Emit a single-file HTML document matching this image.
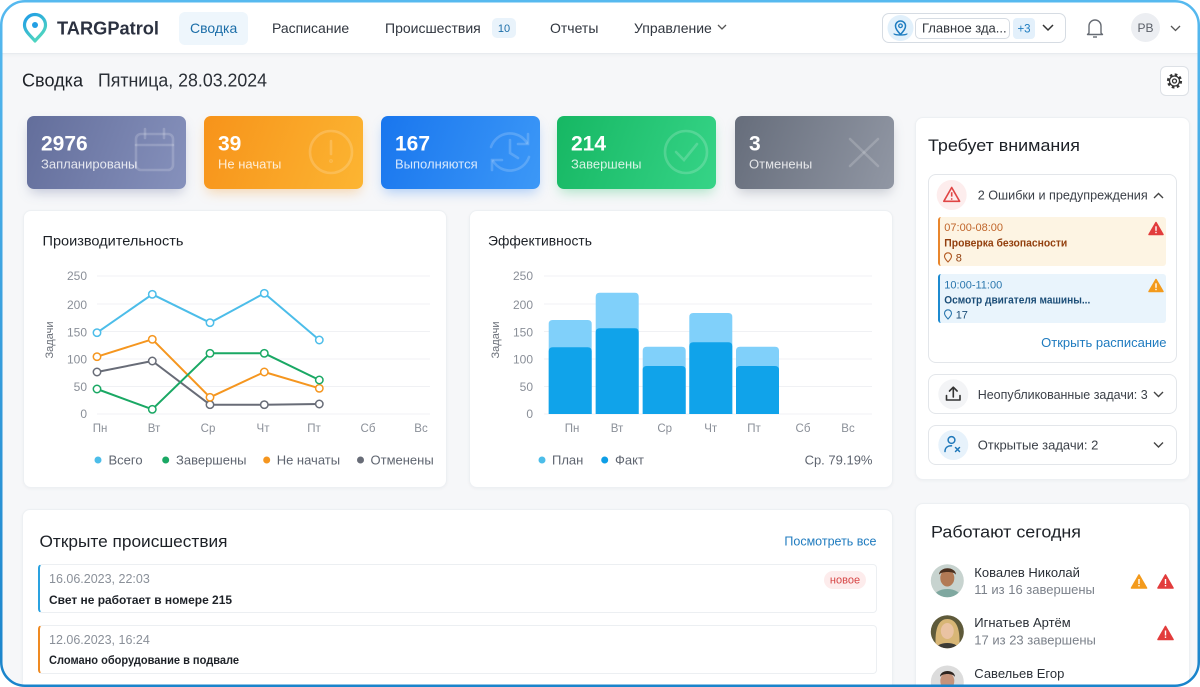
<!DOCTYPE html>
<html lang="ru"><head><meta charset="utf-8"><title>TARGPatrol — Сводка</title>
<style>
*{box-sizing:border-box}
html,body{margin:0;padding:0;width:1200px;height:687px;overflow:hidden;background:#fff}
#root{position:relative;width:1200px;height:687px;overflow:hidden;background:#f6f7f9;font-family:"Liberation Sans","DejaVu Sans",sans-serif}
.b{position:absolute}
.card{position:absolute;background:#fff;border:1px solid #edf0f3;border-radius:8px;box-shadow:0 1px 3px rgba(20,30,50,0.04)}
.stat{position:absolute;top:116px;width:159px;height:73px;border-radius:7px}
svg.ov{position:absolute;left:0;top:0}
</style></head><body><div id="root">

<!-- header -->
<div class="b" style="left:0;top:0;width:1200px;height:54px;background:#fff;border-bottom:1px solid #e8ebef;box-shadow:0 1px 4px rgba(0,0,0,0.04)"></div>
<div class="b" style="left:179px;top:12px;width:69px;height:33px;background:#eef6fc;border-radius:6px"></div>
<div class="b" style="left:492px;top:18px;width:24px;height:20px;background:#e9f3fb;border-radius:5px"></div>
<div class="b" style="left:882px;top:13px;width:184px;height:30px;border:1px solid #d6dce3;border-radius:7px;background:#fff"></div>
<div class="b" style="left:915px;top:18px;width:95px;height:21px;border:1px solid #d6dce3;border-radius:5px;background:#fff"></div>
<div class="b" style="left:1013px;top:18px;width:22px;height:21px;background:#e3f0fb;border-radius:4px"></div>
<div class="b" style="left:1160px;top:66px;width:29px;height:30px;background:#fff;border:1px solid #dde1e6;border-radius:6px"></div>

<!-- stat cards -->
<div class="stat" style="left:27px;background:linear-gradient(110deg,#636e9b,#8691bc);box-shadow:0 6px 12px -3px rgba(90,100,150,0.35)"></div>
<div class="stat" style="left:204px;background:linear-gradient(110deg,#f7931a,#fcb532);box-shadow:0 6px 12px -3px rgba(245,150,30,0.35)"></div>
<div class="stat" style="left:381px;background:linear-gradient(110deg,#1976ee,#3c98f7);box-shadow:0 6px 12px -3px rgba(30,120,240,0.35)"></div>
<div class="stat" style="left:557px;background:linear-gradient(110deg,#16b763,#36d487);box-shadow:0 6px 12px -3px rgba(30,190,100,0.35)"></div>
<div class="stat" style="left:735px;background:linear-gradient(110deg,#666d7b,#9197a4);box-shadow:0 6px 12px -3px rgba(100,110,125,0.35)"></div>

<!-- chart cards -->
<div class="card" style="left:23px;top:210px;width:424px;height:278px"></div>
<div class="card" style="left:469px;top:210px;width:424px;height:278px"></div>

<!-- attention -->
<div class="card" style="left:915px;top:117px;width:275px;height:363px"></div>
<div class="b" style="left:928px;top:174px;width:249px;height:189px;border:1px solid #e3e6ea;border-radius:8px;background:#fff"></div>
<div class="b" style="left:938px;top:217px;width:228px;height:49px;background:#fdf4e3;border-left:2px solid #e9862c;border-radius:3px"></div>
<div class="b" style="left:938px;top:274px;width:228px;height:49px;background:#e9f4fc;border-left:2px solid #1c8ad0;border-radius:3px"></div>
<div class="b" style="left:928px;top:374px;width:249px;height:40px;border:1px solid #e3e6ea;border-radius:8px;background:#fff"></div>
<div class="b" style="left:928px;top:425px;width:249px;height:40px;border:1px solid #e3e6ea;border-radius:8px;background:#fff"></div>

<!-- workers -->
<div class="card" style="left:915px;top:503px;width:275px;height:200px"></div>

<!-- incidents -->
<div class="card" style="left:22px;top:509px;width:871px;height:200px"></div>
<div class="b" style="left:38px;top:564px;width:839px;height:49px;background:#fff;border:1px solid #eceff2;border-left:2px solid #2aa2e0;border-radius:4px"></div>
<div class="b" style="left:38px;top:625px;width:839px;height:49px;background:#fff;border:1px solid #eceff2;border-left:2px solid #ef8a22;border-radius:4px"></div>
<div class="b" style="left:824px;top:571px;width:42px;height:18px;background:#fdecec;border-radius:9px"></div>

<svg class="ov" width="1200" height="687" viewBox="0 0 1200 687" xmlns="http://www.w3.org/2000/svg" font-family="Liberation Sans, DejaVu Sans, sans-serif">
<defs>
<linearGradient id="lg" x1="0" y1="0" x2="0.6" y2="1"><stop offset="0" stop-color="#1e9be8"/><stop offset="1" stop-color="#4fd6bf"/></linearGradient>
<linearGradient id="fr" x1="0" y1="0" x2="0" y2="1"><stop offset="0" stop-color="#56b9ef"/><stop offset="1" stop-color="#1a84cb"/></linearGradient>
<clipPath id="a1"><circle cx="947.3" cy="580.7" r="16.5"/></clipPath>
<clipPath id="a2"><circle cx="947.3" cy="631.7" r="16.5"/></clipPath>
<clipPath id="a3"><circle cx="947.3" cy="682" r="16.5"/></clipPath>
</defs>

<!-- HEADER -->
<path d="M35 41 C31 36 24.5 31.5 24.5 25 A10.5 10.5 0 1 1 45.5 25 C45.5 31.5 39 36 35 41 Z" fill="none" stroke="url(#lg)" stroke-width="3.2" stroke-linejoin="round"/>
<circle cx="35" cy="25" r="3" fill="#239fe4"/>
<text x="57" y="34.5" font-size="18" font-weight="bold" fill="#2b3140" textLength="102" lengthAdjust="spacingAndGlyphs">TARGPatrol</text>
<g font-size="14" fill="#30363f">
<text x="190" y="33" fill="#1c6ea8">Сводка</text>
<text x="272" y="33">Расписание</text>
<text x="385" y="33">Происшествия</text>
<text x="550" y="33">Отчеты</text>
<text x="634" y="33">Управление</text>
</g>
<text x="504" y="32" font-size="11" fill="#1c6ea8" text-anchor="middle">10</text>
<polyline points="718,25 722,29 726,25" fill="none" stroke="#555" stroke-width="1.3"/>
<circle cx="900.5" cy="28" r="13" fill="#e1f0fb"/>
<path d="M900.5 34.5 C897 30.5 895.5 28.5 895.5 26 A5 5 0 1 1 905.5 26 C905.5 28.5 904 30.5 900.5 34.5 Z" fill="none" stroke="#1d7cc0" stroke-width="1.5"/>
<circle cx="900.5" cy="25.8" r="1.8" fill="none" stroke="#1d7cc0" stroke-width="1.3"/>
<path d="M894 33.5 C894 35.5 907 35.5 907 33.5" fill="none" stroke="#1d7cc0" stroke-width="1.3"/>
<text x="922" y="32.5" font-size="13" fill="#2f343b">Главное зда...</text>
<text x="1024" y="32.5" font-size="11.5" fill="#1d7cc0" text-anchor="middle">+3</text>
<polyline points="1043,25 1048,30 1053,25" fill="none" stroke="#333" stroke-width="1.5"/>
<path d="M1089 33 V26 A6 6 0 0 1 1101 26 V33 L1102.5 34.5 H1087.5 Z" fill="none" stroke="#666b73" stroke-width="1.4" stroke-linejoin="round"/>
<path d="M1093 37 H1097" stroke="#666b73" stroke-width="1.4"/>
<circle cx="1145.5" cy="27.5" r="14.5" fill="#eceef2"/>
<text x="1145.5" y="32" font-size="12" fill="#5a5f68" text-anchor="middle">PB</text>
<polyline points="1171,26 1175.5,30.5 1180,26" fill="none" stroke="#555" stroke-width="1.3"/>

<!-- subheader -->
<text x="22" y="86.5" font-size="18" fill="#1d2127" textLength="61" lengthAdjust="spacingAndGlyphs">Сводка</text>
<text x="98" y="86.5" font-size="18" fill="#2a2f36" textLength="169" lengthAdjust="spacingAndGlyphs">Пятница, 28.03.2024</text>
<circle cx="1174.5" cy="81" r="6.3" fill="none" stroke="#333" stroke-width="2.6" stroke-dasharray="2.6 2.35"/>
<circle cx="1174.5" cy="81" r="5" fill="#fff" stroke="#333" stroke-width="1.3"/>
<circle cx="1174.5" cy="81" r="2" fill="none" stroke="#333" stroke-width="1.3"/>

<!-- STAT CARDS -->
<g fill="none" stroke="#fff" stroke-opacity="0.18" stroke-width="2.6" stroke-linecap="round">
<rect x="136" y="134" width="37" height="36" rx="5"/><line x1="136" y1="145" x2="173" y2="145"/><line x1="145" y1="129" x2="145" y2="138"/><line x1="164" y1="129" x2="164" y2="138"/>
<circle cx="331" cy="152" r="21"/><line x1="331" y1="141" x2="331" y2="154"/><circle cx="331" cy="161" r="0.6"/>
<path d="M491 147 A20 20 0 0 1 527 143"/><polyline points="528,134 528,144 518,144"/><path d="M529 157 A20 20 0 0 1 493 161"/><polyline points="492,170 492,160 502,160"/><polyline points="510,140 510,153 518,158"/>
<circle cx="686" cy="152" r="21"/><polyline points="676,152 684,160 697,144"/>
<line x1="850" y1="139" x2="878" y2="166"/><line x1="878" y1="139" x2="850" y2="166"/>
</g>
<g fill="#fff">
<text x="41" y="150.5" font-size="21" font-weight="bold">2976</text>
<text x="218" y="150.5" font-size="21" font-weight="bold">39</text>
<text x="395" y="150.5" font-size="21" font-weight="bold">167</text>
<text x="571" y="150.5" font-size="21" font-weight="bold">214</text>
<text x="749" y="150.5" font-size="21" font-weight="bold">3</text>
</g>
<g fill="#fff" fill-opacity="0.82" font-size="13">
<text x="41" y="168.5">Запланированы</text>
<text x="218" y="168.5">Не начаты</text>
<text x="395" y="168.5">Выполняются</text>
<text x="571" y="168.5">Завершены</text>
<text x="749" y="168.5">Отменены</text>
</g>

<!-- LEFT CHART -->
<text x="42.5" y="245.5" font-size="14" fill="#1d2127" textLength="141" lengthAdjust="spacingAndGlyphs">Производительность</text>
<g stroke="#f0f1f4" stroke-width="1">
<line x1="97" y1="276" x2="430" y2="276"/><line x1="97" y1="304" x2="430" y2="304"/><line x1="97" y1="331.5" x2="430" y2="331.5"/><line x1="97" y1="359" x2="430" y2="359"/><line x1="97" y1="386.5" x2="430" y2="386.5"/><line x1="97" y1="414" x2="430" y2="414"/>
</g>
<g font-size="12" fill="#8a8f98" text-anchor="end">
<text x="87" y="280.2">250</text><text x="87" y="308.8">200</text><text x="87" y="336.6">150</text><text x="87" y="363.6">100</text><text x="87" y="390.8">50</text><text x="87" y="418.2">0</text>
</g>
<text transform="translate(53,340) rotate(-90)" font-size="11" fill="#6b7079" text-anchor="middle">Задачи</text>
<g font-size="11.5" fill="#8a8f98" text-anchor="middle">
<text x="100" y="432">Пн</text><text x="154" y="432">Вт</text><text x="208" y="432">Ср</text><text x="263" y="432">Чт</text><text x="314" y="432">Пт</text><text x="368" y="432">Сб</text><text x="421" y="432">Вс</text>
</g>
<g fill="none" stroke-width="2" stroke-linejoin="round">
<polyline stroke="#686c77" points="97,372 152.3,361 210,404.7 264.3,404.7 319.3,404"/>
<polyline stroke="#f5961f" points="97,356.7 152.3,339.3 210,397.3 264.3,372 319.3,388.3"/>
<polyline stroke="#1aa864" points="97,389 152.3,409.3 210,353.3 264.3,353.3 319.3,380"/>
<polyline stroke="#4cbde9" points="97,332.7 152.3,294.3 210,322.7 264.3,293.3 319.3,340"/>
</g>
<g fill="#fff" stroke-width="1.5">
<g stroke="#686c77"><circle cx="97" cy="372" r="3.7"/><circle cx="152.3" cy="361" r="3.7"/><circle cx="210" cy="404.7" r="3.7"/><circle cx="264.3" cy="404.7" r="3.7"/><circle cx="319.3" cy="404" r="3.7"/></g>
<g stroke="#f5961f"><circle cx="97" cy="356.7" r="3.7"/><circle cx="152.3" cy="339.3" r="3.7"/><circle cx="210" cy="397.3" r="3.7"/><circle cx="264.3" cy="372" r="3.7"/><circle cx="319.3" cy="388.3" r="3.7"/></g>
<g stroke="#1aa864"><circle cx="97" cy="389" r="3.7"/><circle cx="152.3" cy="409.3" r="3.7"/><circle cx="210" cy="353.3" r="3.7"/><circle cx="264.3" cy="353.3" r="3.7"/><circle cx="319.3" cy="380" r="3.7"/></g>
<g stroke="#4cbde9"><circle cx="97" cy="332.7" r="3.7"/><circle cx="152.3" cy="294.3" r="3.7"/><circle cx="210" cy="322.7" r="3.7"/><circle cx="264.3" cy="293.3" r="3.7"/><circle cx="319.3" cy="340" r="3.7"/></g>
</g>
<circle cx="98" cy="460" r="3.5" fill="#4cbde9"/><circle cx="165.7" cy="460" r="3.5" fill="#1aa864"/><circle cx="266.7" cy="460" r="3.5" fill="#f5961f"/><circle cx="360.5" cy="460" r="3.5" fill="#686c77"/>
<g font-size="13" fill="#5f6570">
<text x="108.5" y="464.5">Всего</text><text x="176" y="464.5">Завершены</text><text x="276.7" y="464.5">Не начаты</text><text x="370.5" y="464.5">Отменены</text>
</g>

<!-- RIGHT CHART -->
<text x="488" y="245.5" font-size="14" fill="#1d2127" textLength="104" lengthAdjust="spacingAndGlyphs">Эффективность</text>
<g stroke="#f0f1f4" stroke-width="1">
<line x1="544" y1="276" x2="872" y2="276"/><line x1="544" y1="304" x2="872" y2="304"/><line x1="544" y1="331.5" x2="872" y2="331.5"/><line x1="544" y1="359" x2="872" y2="359"/><line x1="544" y1="386.5" x2="872" y2="386.5"/><line x1="544" y1="414" x2="872" y2="414"/>
</g>
<g font-size="12" fill="#8a8f98" text-anchor="end">
<text x="533" y="280.2">250</text><text x="533" y="308.8">200</text><text x="533" y="336.6">150</text><text x="533" y="363.6">100</text><text x="533" y="390.8">50</text><text x="533" y="418.2">0</text>
</g>
<text transform="translate(499,340) rotate(-90)" font-size="11" fill="#6b7079" text-anchor="middle">Задачи</text>
<g fill="#80d0fa">
<path d="M548.7 414V324Q548.7 320 552.7 320H587.7Q591.7 320 591.7 324V414Z"/>
<path d="M595.7 414V296.7Q595.7 292.7 599.7 292.7H634.7Q638.7 292.7 638.7 296.7V414Z"/>
<path d="M642.7 414V350.7Q642.7 346.7 646.7 346.7H681.7Q685.7 346.7 685.7 350.7V414Z"/>
<path d="M689.3 414V317Q689.3 313 693.3 313H728.3Q732.3 313 732.3 317V414Z"/>
<path d="M736 414V350.7Q736 346.7 740 346.7H775Q779 346.7 779 350.7V414Z"/>
</g>
<g fill="#10a3ea">
<path d="M548.7 414V351.3Q548.7 347.3 552.7 347.3H587.7Q591.7 347.3 591.7 351.3V414Z"/>
<path d="M595.7 414V332.3Q595.7 328.3 599.7 328.3H634.7Q638.7 328.3 638.7 332.3V414Z"/>
<path d="M642.7 414V370Q642.7 366 646.7 366H681.7Q685.7 366 685.7 370V414Z"/>
<path d="M689.3 414V346.3Q689.3 342.3 693.3 342.3H728.3Q732.3 342.3 732.3 346.3V414Z"/>
<path d="M736 414V370Q736 366 740 366H775Q779 366 779 370V414Z"/>
</g>
<g font-size="11.5" fill="#8a8f98" text-anchor="middle">
<text x="572" y="432">Пн</text><text x="617" y="432">Вт</text><text x="664.7" y="432">Ср</text><text x="710.7" y="432">Чт</text><text x="754" y="432">Пт</text><text x="803" y="432">Сб</text><text x="848" y="432">Вс</text>
</g>
<circle cx="542" cy="460" r="3.5" fill="#4cbde9"/><circle cx="604.7" cy="460" r="3.5" fill="#0e9ee6"/>
<g font-size="13" fill="#5f6570">
<text x="552" y="464.5">План</text><text x="615" y="464.5">Факт</text>
<text x="872.5" y="464.5" text-anchor="end">Ср. 79.19%</text>
</g>

<!-- ATTENTION -->
<text x="928" y="151" font-size="17" fill="#1d2127" textLength="152" lengthAdjust="spacingAndGlyphs">Требует внимания</text>
<circle cx="951.7" cy="195" r="15" fill="#fdeded"/>
<path d="M951.7 187.5 L959.6 201.3 H943.8 Z" fill="none" stroke="#e04545" stroke-width="1.6" stroke-linejoin="round"/>
<line x1="951.7" y1="192.2" x2="951.7" y2="196.6" stroke="#e04545" stroke-width="1.6"/><circle cx="951.7" cy="199" r="0.9" fill="#e04545"/>
<text x="977.7" y="199.5" font-size="13" fill="#3a3f47" textLength="170" lengthAdjust="spacingAndGlyphs">2 Ошибки и предупреждения</text>
<polyline points="1154,198 1158.5,193.5 1163,198" fill="none" stroke="#444" stroke-width="1.4"/>

<text x="944.3" y="231" font-size="11" fill="#c0652a">07:00-08:00</text>
<text x="944.3" y="246.3" font-size="11" font-weight="bold" fill="#93400f" textLength="123" lengthAdjust="spacingAndGlyphs">Проверка безопасности</text>
<path d="M948 262 C945.5 259.5 944.5 258 944.5 256.3 A3.5 3.5 0 1 1 951.5 256.3 C951.5 258 950.5 259.5 948 262Z" fill="none" stroke="#b35a22" stroke-width="1.1"/>
<text x="955.7" y="261.3" font-size="11" fill="#93400f">8</text>
<path d="M1156 222.5 L1163 234.5 H1149 Z" fill="#e23c3c" stroke="#e23c3c" stroke-width="1.5" stroke-linejoin="round"/>
<rect x="1155.3" y="226.3" width="1.4" height="4.5" fill="#fff"/><rect x="1155.3" y="231.8" width="1.4" height="1.4" fill="#fff"/>

<text x="944.3" y="288.3" font-size="11" fill="#2a76ad">10:00-11:00</text>
<text x="944.3" y="303.7" font-size="11" font-weight="bold" fill="#1b4d77" textLength="146" lengthAdjust="spacingAndGlyphs">Осмотр двигателя машины...</text>
<path d="M948 319 C945.5 316.5 944.5 315 944.5 313.3 A3.5 3.5 0 1 1 951.5 313.3 C951.5 315 950.5 316.5 948 319Z" fill="none" stroke="#2a76ad" stroke-width="1.1"/>
<text x="955.7" y="318.3" font-size="11" fill="#1b4d77">17</text>
<path d="M1156 279.5 L1163 291.5 H1149 Z" fill="#f39a1c" stroke="#f39a1c" stroke-width="1.5" stroke-linejoin="round"/>
<rect x="1155.3" y="283.3" width="1.4" height="4.5" fill="#fff"/><rect x="1155.3" y="288.8" width="1.4" height="1.4" fill="#fff"/>

<text x="1166.5" y="347.2" font-size="13" fill="#1f7bbf" text-anchor="end">Открыть расписание</text>

<circle cx="953.3" cy="394.3" r="15" fill="#f3f4f6"/>
<g fill="none" stroke="#333" stroke-width="1.6" stroke-linecap="round" stroke-linejoin="round">
<path d="M946.5 395.5 V400 H960 V395.5"/><line x1="953.3" y1="387.5" x2="953.3" y2="397"/><polyline points="949.5,391 953.3,387.2 957.1,391"/>
</g>
<text x="977.7" y="398.8" font-size="13" fill="#3a3f47" textLength="170" lengthAdjust="spacingAndGlyphs">Неопубликованные задачи: 3</text>
<polyline points="1154,392 1158.5,396.5 1163,392" fill="none" stroke="#444" stroke-width="1.4"/>

<circle cx="953.3" cy="445" r="15" fill="#e7f2fb"/>
<g fill="none" stroke="#1f78ba" stroke-width="1.5" stroke-linecap="round">
<circle cx="951.5" cy="440" r="3.4"/><path d="M945 451.5 C945 447.5 948 445.8 951.5 445.8"/><line x1="955.5" y1="447.5" x2="959.5" y2="451.5"/><line x1="959.5" y1="447.5" x2="955.5" y2="451.5"/>
</g>
<text x="977.7" y="449.5" font-size="13" fill="#3a3f47">Открытые задачи: 2</text>
<polyline points="1154,442.5 1158.5,447 1163,442.5" fill="none" stroke="#444" stroke-width="1.4"/>

<!-- WORKERS -->
<text x="931" y="537.7" font-size="17" fill="#1d2127" textLength="150" lengthAdjust="spacingAndGlyphs">Работают сегодня</text>
<g clip-path="url(#a1)"><rect x="930" y="563" width="35" height="35" fill="#c7d3cf"/><ellipse cx="947.3" cy="598" rx="14" ry="9" fill="#7fa8a0"/><ellipse cx="947.3" cy="578" rx="7" ry="8.5" fill="#b27a55"/><path d="M939 575 C939 566 956 566 956 575 C955 571 940 571 939 575Z" fill="#4a2f1e"/></g>
<g clip-path="url(#a2)"><rect x="930" y="614" width="35" height="35" fill="#5e5a3a"/><path d="M936 650 C934 630 938 619 947.3 619 C957 619 961 630 959 650Z" fill="#d8b676"/><ellipse cx="947.3" cy="631" rx="6.5" ry="8" fill="#eac3a3"/><ellipse cx="947.3" cy="650" rx="12" ry="7" fill="#3d3b36"/></g>
<g clip-path="url(#a3)"><rect x="930" y="665" width="35" height="35" fill="#dcdcdc"/><ellipse cx="947.3" cy="681" rx="7" ry="8.5" fill="#c6937a"/><path d="M940 677 C940 669 955 669 955 677 C953 673 942 673 940 677Z" fill="#2e2520"/></g>
<text x="974.3" y="576.8" font-size="13" fill="#2a2f36">Ковалев Николай</text>
<text x="974.3" y="593.8" font-size="13" fill="#7b818a">11 из 16 завершены</text>
<text x="974.3" y="627.2" font-size="13" fill="#2a2f36">Игнатьев Артём</text>
<text x="974.3" y="644.5" font-size="13" fill="#7b818a">17 из 23 завершены</text>
<text x="974.3" y="677.8" font-size="13" fill="#2a2f36">Савельев Егор</text>
<path d="M1139 575 L1146.5 588 H1131.5 Z" fill="#f39a1c" stroke="#f39a1c" stroke-width="1.6" stroke-linejoin="round"/>
<rect x="1138.3" y="579" width="1.4" height="5" fill="#fff"/><rect x="1138.3" y="585" width="1.4" height="1.4" fill="#fff"/>
<path d="M1165.5 575 L1173 588 H1158 Z" fill="#e23c3c" stroke="#e23c3c" stroke-width="1.6" stroke-linejoin="round"/>
<rect x="1164.8" y="579" width="1.4" height="5" fill="#fff"/><rect x="1164.8" y="585" width="1.4" height="1.4" fill="#fff"/>
<path d="M1165.5 626.5 L1173 639.5 H1158 Z" fill="#e23c3c" stroke="#e23c3c" stroke-width="1.6" stroke-linejoin="round"/>
<rect x="1164.8" y="630.5" width="1.4" height="5" fill="#fff"/><rect x="1164.8" y="636.5" width="1.4" height="1.4" fill="#fff"/>

<!-- INCIDENTS -->
<text x="39.5" y="547" font-size="17" fill="#1d2127" textLength="188" lengthAdjust="spacingAndGlyphs">Открыте происшествия</text>
<text x="876.5" y="545.5" font-size="12.5" fill="#1f7bbf" text-anchor="end">Посмотреть все</text>
<text x="49" y="583.2" font-size="12.5" fill="#8a9099">16.06.2023, 22:03</text>
<text x="49" y="604.2" font-size="12" font-weight="bold" fill="#1d2127" textLength="183" lengthAdjust="spacingAndGlyphs">Свет не работает в номере 215</text>
<text x="845" y="583.4" font-size="11" fill="#d64545" text-anchor="middle">новое</text>
<text x="49" y="644.2" font-size="12.5" fill="#8a9099">12.06.2023, 16:24</text>
<text x="49" y="664.2" font-size="12" font-weight="bold" fill="#1d2127" textLength="190" lengthAdjust="spacingAndGlyphs">Сломано оборудование в подвале</text>

<!-- FRAME -->
<path fill="#fff" fill-rule="evenodd" d="M0 0H1200V687H0Z M25 1.25 H1175 A23.75 23.75 0 0 1 1198.75 25 V662 A23.75 23.75 0 0 1 1175 685.75 H25 A23.75 23.75 0 0 1 1.25 662 V25 A23.75 23.75 0 0 1 25 1.25Z"/>
<rect x="1.25" y="1.25" width="1197.5" height="684.5" rx="23.75" fill="none" stroke="url(#fr)" stroke-width="2.5"/>
</svg>
</div></body></html>
